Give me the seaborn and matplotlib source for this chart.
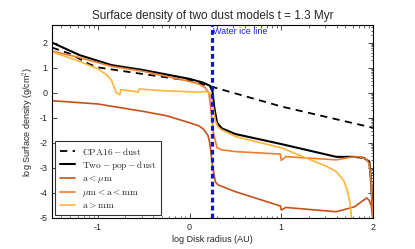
import matplotlib
matplotlib.use("Agg")
import matplotlib.pyplot as plt
import seaborn as sns
import pandas as pd
import numpy as np
from matplotlib.ticker import FixedLocator

sns.set_style("ticks")
plt.rcParams['font.family'] = ['Liberation Sans', 'DejaVu Sans']
plt.rcParams['mathtext.fontset'] = 'cm'
plt.rcParams['axes.unicode_minus'] = False

# ---- data (log AU, log g/cm^2) ----
cpa_x = [-1.5, -1.3, -1.1, -1.0, -0.5, 0.0, 0.24, 1.0, 2.0]
cpa_y = [1.80, 1.55, 1.15, 1.01, 0.74, 0.48, 0.24, -0.55, -1.40]

two_x = [-1.5, -1.2, -0.85, -0.5, 0.0, 0.15, 0.22, 0.25, 0.27, 0.30, 0.35, 0.5, 1.0, 1.6, 1.8, 1.9, 1.96, 1.98, 2.0]
two_y = [2.00, 1.50, 1.10, 0.90, 0.55, 0.40, 0.28, 0.05, -0.60, -1.20, -1.42, -1.65, -2.05, -2.56, -2.56, -2.60, -2.75, -3.60, -5.0]

sm_x = [-1.5, -1.0, -0.75, -0.5, -0.25, 0.0, 0.1, 0.15, 0.2, 0.22, 0.25, 0.28, 0.31, 0.5, 0.99, 1.0, 1.05, 1.6, 1.8, 1.93, 1.96, 1.98, 2.0]
sm_y = [-0.32, -0.45, -0.60, -0.75, -0.92, -1.20, -1.32, -1.45, -1.70, -2.00, -2.90, -3.55, -3.68, -3.95, -4.52, -4.68, -4.58, -4.75, -4.55, -4.20, -4.30, -4.50, -5.0]

md_x = [-1.5, -1.2, -0.85, -0.5, 0.0, 0.1, 0.17, 0.21, 0.23, 0.26, 0.30, 0.35, 0.5, 0.99, 1.0, 1.05, 1.6, 1.75, 1.85, 1.93, 1.96, 1.98, 2.0]
md_y = [1.66, 1.40, 1.05, 0.85, 0.45, 0.35, 0.20, 0.00, -0.60, -1.60, -2.20, -2.28, -2.35, -2.45, -2.70, -2.55, -2.68, -2.58, -2.55, -2.65, -2.85, -3.60, -5.0]

lg_x = [-1.5, -1.2, -1.0, -0.9, -0.85, -0.8, -0.76, -0.75, -0.6, -0.56, -0.55, -0.3, -0.1, 0.1, 0.18, 0.22, 0.25, 0.28, 0.31, 0.35, 0.5, 1.0, 1.2, 1.5, 1.6, 1.68, 1.72, 1.75, 1.77]
lg_y = [1.63, 1.25, 0.95, 0.70, 0.48, 0.00, -0.08, 0.12, 0.05, 0.03, 0.15, 0.08, 0.05, 0.02, 0.05, 0.00, -0.40, -1.10, -1.38, -1.48, -1.75, -2.20, -2.50, -2.95, -3.15, -3.50, -3.90, -4.40, -5.2]

ice_x = 0.24

labels = [r"$\mathrm{CPA16-dust}$", r"$\mathrm{Two-pop-dust}$", r"$\mathrm{a<\mu m}$",
          r"$\mu\mathrm{m<a<mm}$", r"$\mathrm{a>mm}$"]

fig = plt.figure(figsize=(4.15, 2.49), dpi=100)
ax = fig.add_axes([0.1253, 0.1245, 0.7735, 0.775])

c_sm, c_md, c_lg = "#c8501a", "#ee7d2c", "#fdb637"

sns.lineplot(data=pd.DataFrame({"x": cpa_x, "y": cpa_y}), x="x", y="y", ax=ax, color="black",
             lw=1.3, label=labels[0], estimator=None, sort=False)
ax.lines[-1].set_dashes([4, 3])
sns.lineplot(data=pd.DataFrame({"x": two_x, "y": two_y}), x="x", y="y", ax=ax, color="black",
             lw=1.5, label=labels[1], estimator=None, sort=False)
sns.lineplot(data=pd.DataFrame({"x": sm_x, "y": sm_y}), x="x", y="y", ax=ax, color=c_sm,
             lw=1.2, label=labels[2], estimator=None, sort=False)
sns.lineplot(data=pd.DataFrame({"x": md_x, "y": md_y}), x="x", y="y", ax=ax, color=c_md,
             lw=1.2, label=labels[3], estimator=None, sort=False)
sns.lineplot(data=pd.DataFrame({"x": lg_x, "y": lg_y}), x="x", y="y", ax=ax, color=c_lg,
             lw=1.2, label=labels[4], estimator=None, sort=False)

ax.axvline(ice_x, color="#1010ee", lw=2.3, ls=(0, (1.5, 1.0)), zorder=5)
ax.text(ice_x + 0.02, 2.43, "Water ice line", color="#2020ee", fontsize=6.5, va="center", ha="left")

ax.set_xlim(-1.5, 2.0)
ax.set_ylim(-5.0, 2.7)
ax.set_xticks([-1, 0, 1, 2])
ax.set_yticks([-5, -4, -3, -2, -1, 0, 1, 2])
logminor = np.log10(np.arange(2, 10))
xminor = [d + m for d in range(-2, 2) for m in logminor]
yminor = [d + m for d in range(-6, 3) for m in logminor]
ax.xaxis.set_minor_locator(FixedLocator(xminor))
ax.yaxis.set_minor_locator(FixedLocator(yminor))
ax.tick_params(axis="both", which="both", direction="in", labelsize=6.5,
               top=True, right=True, bottom=True, left=True)
ax.tick_params(axis="y", which="minor", left=False, right=True)
ax.tick_params(which="major", length=3.5, width=0.6)
ax.tick_params(which="minor", length=1.8, width=0.5)
for s in ax.spines.values():
    s.set_linewidth(0.8)
    s.set_color("black")

ax.set_xlabel("log Disk radius (AU)", fontsize=6.5, labelpad=2)
ax.set_ylabel(r"log Surface density (g/cm$^2$)", fontsize=6.5, labelpad=2)
ax.set_title("Surface density of two dust models t = 1.3 Myr", fontsize=8.5, pad=4)

leg = ax.legend(loc="lower left", fontsize=6.8, frameon=True, fancybox=False,
                framealpha=1, edgecolor="#333333", borderaxespad=0.3, handlelength=1.6,
                handletextpad=0.8, labelspacing=0.2, borderpad=0.5)
leg.get_frame().set_linewidth(0.8)

fig.savefig("out.png", dpi=100)
